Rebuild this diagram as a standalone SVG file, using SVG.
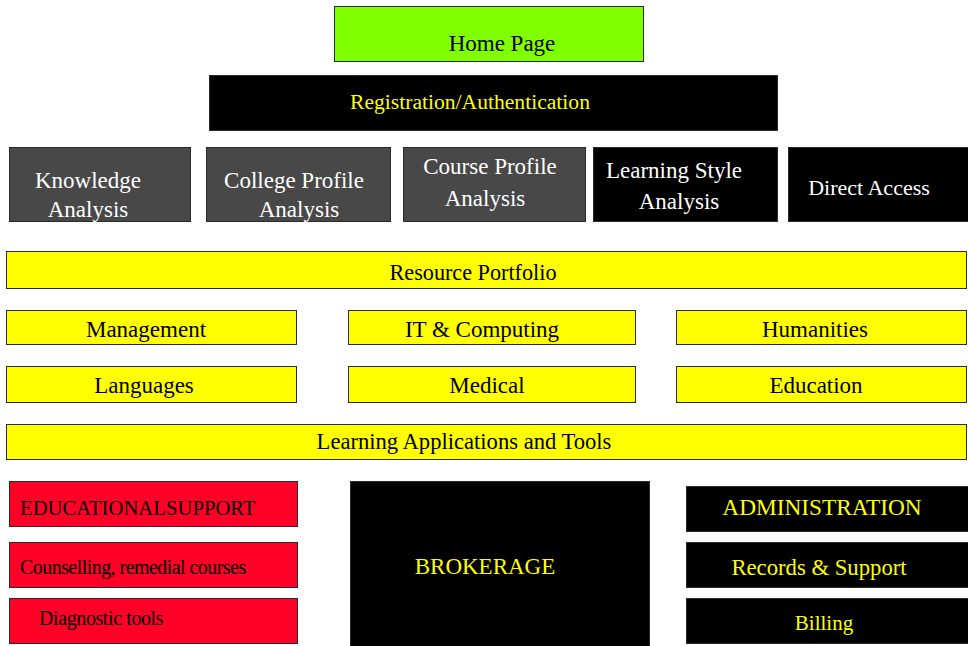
<svg xmlns="http://www.w3.org/2000/svg" width="968" height="646" viewBox="0 0 968 646">
  <style>
    .box { stroke: #2a2a2a; stroke-width: 1; }
    .green { fill: #80ff00; }
    .black { fill: #000000; }
    .grey { fill: #484848; }
    .yellow { fill: #ffff00; }
    .red { fill: #ff0027; }
  </style>
  <rect width="968" height="646" fill="#ffffff"/>

  <!-- portal header -->
  <g id="home"><rect class="box green" x="334.5" y="6.5" width="309" height="55"/>
    <text x="502" y="51" font-family="Liberation Serif" font-size="23" fill="#000" text-anchor="middle">Home Page</text></g>
  <g id="registration"><rect class="box black" x="209.5" y="75.5" width="568" height="55"/>
    <text x="470" y="109" font-family="Liberation Serif" font-size="21.6" fill="#ffff00" text-anchor="middle">Registration/Authentication</text></g>

  <!-- analysis modules -->
  <g id="knowledge"><rect class="box grey" x="9.5" y="147.5" width="181" height="74"/>
    <text x="88" y="188" font-family="Liberation Serif" font-size="23" fill="#fff" text-anchor="middle">Knowledge</text>
    <text x="88" y="217" font-family="Liberation Serif" font-size="23" fill="#fff" text-anchor="middle">Analysis</text></g>
  <g id="college"><rect class="box grey" x="206.5" y="147.5" width="184" height="74"/>
    <text x="294" y="188" font-family="Liberation Serif" font-size="23" fill="#fff" text-anchor="middle">College Profile</text>
    <text x="299" y="217" font-family="Liberation Serif" font-size="23" fill="#fff" text-anchor="middle">Analysis</text></g>
  <g id="course"><rect class="box grey" x="403.5" y="147.5" width="182" height="74"/>
    <text x="490" y="174" font-family="Liberation Serif" font-size="23" fill="#fff" text-anchor="middle">Course Profile</text>
    <text x="485" y="206" font-family="Liberation Serif" font-size="23" fill="#fff" text-anchor="middle">Analysis</text></g>
  <g id="learning-style"><rect class="box black" x="593.5" y="147.5" width="184" height="74"/>
    <text x="674" y="178" font-family="Liberation Serif" font-size="23" fill="#fff" text-anchor="middle">Learning Style</text>
    <text x="679" y="209" font-family="Liberation Serif" font-size="23" fill="#fff" text-anchor="middle">Analysis</text></g>
  <g id="direct"><rect class="box black" x="788.5" y="147.5" width="180" height="74"/>
    <text x="869" y="195" font-family="Liberation Serif" font-size="22" fill="#fff" text-anchor="middle">Direct Access</text></g>

  <!-- resource portfolio -->
  <g id="resource"><rect class="box yellow" x="6.5" y="251.5" width="960" height="37"/>
    <text x="473" y="280" font-family="Liberation Serif" font-size="22.2" fill="#000" text-anchor="middle">Resource Portfolio</text></g>

  <g id="management"><rect class="box yellow" x="6.5" y="310.5" width="290" height="34"/>
    <text x="146" y="337" font-family="Liberation Serif" font-size="23" fill="#000" text-anchor="middle">Management</text></g>
  <g id="it"><rect class="box yellow" x="348.5" y="310.5" width="287" height="34"/>
    <text x="482" y="337" font-family="Liberation Serif" font-size="23" fill="#000" text-anchor="middle">IT &amp; Computing</text></g>
  <g id="humanities"><rect class="box yellow" x="676.5" y="310.5" width="290" height="34"/>
    <text x="815" y="337" font-family="Liberation Serif" font-size="23" fill="#000" text-anchor="middle">Humanities</text></g>

  <g id="languages"><rect class="box yellow" x="6.5" y="366.5" width="290" height="36"/>
    <text x="144" y="393" font-family="Liberation Serif" font-size="23" fill="#000" text-anchor="middle">Languages</text></g>
  <g id="medical"><rect class="box yellow" x="348.5" y="366.5" width="287" height="36"/>
    <text x="487" y="393" font-family="Liberation Serif" font-size="23" fill="#000" text-anchor="middle">Medical</text></g>
  <g id="education"><rect class="box yellow" x="676.5" y="366.5" width="290" height="36"/>
    <text x="816" y="393" font-family="Liberation Serif" font-size="23" fill="#000" text-anchor="middle">Education</text></g>

  <g id="learning-apps"><rect class="box yellow" x="6.5" y="424.5" width="960" height="35"/>
    <text x="464" y="449" font-family="Liberation Serif" font-size="22.6" fill="#000" text-anchor="middle">Learning Applications and Tools</text></g>

  <!-- support, brokerage and administration -->
  <g id="educational-support"><rect class="box red" x="9.5" y="481.5" width="288" height="45"/>
    <text x="20" y="515" font-family="Liberation Serif" font-size="20.7" fill="#000">EDUCATIONALSUPPORT</text></g>
  <g id="counselling"><rect class="box red" x="9.5" y="542.5" width="288" height="45"/>
    <text x="20" y="574" font-family="Liberation Serif" font-size="20" letter-spacing="-0.55" fill="#000">Counselling, remedial courses</text></g>
  <g id="diagnostic"><rect class="box red" x="9.5" y="598.5" width="288" height="45"/>
    <text x="39" y="625" font-family="Liberation Serif" font-size="20" letter-spacing="-0.4" fill="#000">Diagnostic tools</text></g>

  <g id="brokerage"><rect class="box black" x="350.5" y="481.5" width="299" height="165"/>
    <text x="485" y="574" font-family="Liberation Serif" font-size="23" fill="#ffff00" text-anchor="middle">BROKERAGE</text></g>

  <g id="administration"><rect class="box black" x="686.5" y="486.5" width="282" height="45"/>
    <text x="822" y="515" font-family="Liberation Serif" font-size="23.3" fill="#ffff00" text-anchor="middle">ADMINISTRATION</text></g>
  <g id="records"><rect class="box black" x="686.5" y="542.5" width="282" height="45"/>
    <text x="819" y="575" font-family="Liberation Serif" font-size="22.7" fill="#ffff00" text-anchor="middle">Records &amp; Support</text></g>
  <g id="billing"><rect class="box black" x="686.5" y="598.5" width="282" height="45"/>
    <text x="824" y="630" font-family="Liberation Serif" font-size="21" fill="#ffff00" text-anchor="middle">Billing</text></g>

  <g id="connectors"></g>
</svg>
